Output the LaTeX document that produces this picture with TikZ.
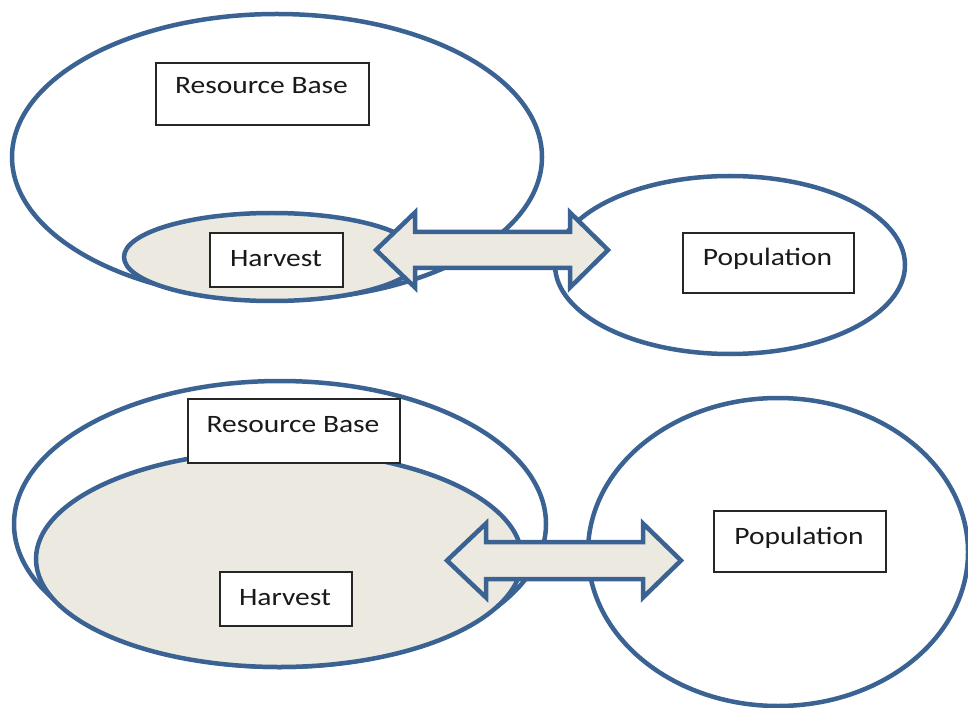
\documentclass[tikz,border=0pt]{standalone}
\usepackage{fontspec}
\setmainfont{Carlito}[FakeStretch=1.18]
\usetikzlibrary{shapes.geometric}
\definecolor{lineblue}{HTML}{3A6293}
\definecolor{beige}{HTML}{ECEAE0}
\tikzset{
  ell/.style={ellipse, draw=lineblue, line width=4.5pt, inner sep=0pt},
  resell/.style={ell, fill=white},
  harvell/.style={ell, fill=beige},
  tbox/.style={draw=black!85, line width=1.8pt, fill=white, inner sep=0pt, anchor=north west},
  lbl/.style={font=\fontsize{25}{29}\selectfont, anchor=mid, inner sep=0pt, text=black!90},
  darrow/.style={draw=lineblue, line width=4.5pt, fill=beige, line join=miter},
}
\begin{document}
\begin{tikzpicture}[x=1pt,y=-1pt]
\useasboundingbox (0,0) rectangle (968,708);
% ---------- top group ----------
\node[resell, minimum width=530pt, minimum height=286pt] (res1) at (277,157) {};
\node[harvell, minimum width=296pt, minimum height=88pt] (harv1) at (272,257) {};
\node[resell, minimum width=350pt, minimum height=178pt] (pop1) at (730,265) {};
\node[tbox, minimum width=213pt, minimum height=62pt] (rbbox1) at (155,62) {};
\node[lbl] at (261.5,91) {Resource Base};
\node[tbox, minimum width=133pt, minimum height=54pt] (hbox1) at (209,232) {};
\node[lbl] at (276,264) {Harvest};
\node[tbox, minimum width=171pt, minimum height=60pt] (pbox1) at (682,232) {};
\node[lbl] at (767.5,263) {Population};
\draw[darrow] (376,250) -- (415,212.5) -- (415,232) -- (570,232) -- (570,212.5)
  -- (608,250) -- (570,287.5) -- (570,268) -- (415,268) -- (415,287.5) -- cycle;
% ---------- bottom group ----------
\node[resell, minimum width=532pt, minimum height=286pt] (res2) at (280,524) {};
\node[harvell, minimum width=486pt, minimum height=216pt] (harv2) at (279,559) {};
\begin{scope}
\clip (0,0) rectangle (968,708);
\node[resell, minimum width=380pt, minimum height=308pt] (pop2) at (778,552) {};
\end{scope}
\node[tbox, minimum width=212pt, minimum height=64pt] (rbbox2) at (187,398) {};
\node[lbl] at (293,430) {Resource Base};
\node[tbox, minimum width=132pt, minimum height=54pt] (hbox2) at (219,571) {};
\node[lbl] at (285,603) {Harvest};
\node[tbox, minimum width=172pt, minimum height=61pt] (pbox2) at (713,510) {};
\node[lbl] at (799,542) {Population};
\draw[darrow] (447,560.5) -- (486,523.5) -- (486,542) -- (643,542) -- (643,523.5)
  -- (681,560.5) -- (643,597.5) -- (643,579) -- (486,579) -- (486,597.5) -- cycle;
\end{tikzpicture}
\end{document}
